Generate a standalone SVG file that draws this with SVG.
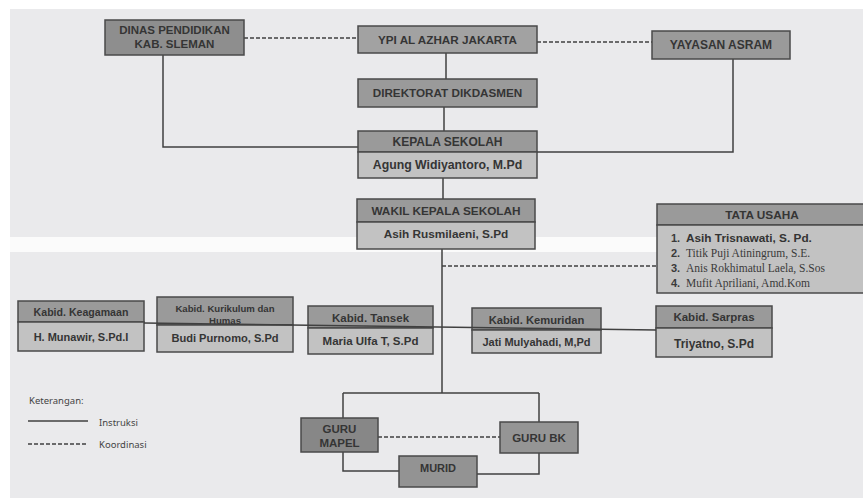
<svg xmlns="http://www.w3.org/2000/svg" width="863" height="498" viewBox="0 0 863 498">
<style>
.bg{fill:#eaeaec}
.box{stroke:#4a4a4a;stroke-width:1.5}
.h1{fill:#8e8e8e}.h2{fill:#a2a2a2}.h3{fill:#9a9a9a}.lo{fill:#c2c2c2}
.t{font-family:"Liberation Sans",Arial,sans-serif;font-weight:bold;fill:#353535;text-anchor:middle}
.s{font-family:"Liberation Serif","Times New Roman",serif;fill:#3a3a3a;font-size:11.5px}
.n{font-family:"Liberation Sans",Arial,sans-serif;font-weight:bold;fill:#3a3a3a;font-size:11px}
.ln{fill:none;stroke:#404040;stroke-width:1.5}
.dl{fill:none;stroke:#404040;stroke-width:1.5;stroke-dasharray:4 2}
.lg{font-family:"Noto Sans","Open Sans",sans-serif;font-size:9.5px;fill:#444}
</style>
<rect width="863" height="498" fill="#ffffff"/>
<rect class="bg" x="10" y="9" width="853" height="489"/>
<rect x="10" y="237" width="853" height="15" fill="#fbfbfb"/>

<g id="connectors">
<path class="dl" d="M244,38 H358"/>
<path class="dl" d="M537,42 H652"/>
<path class="ln" d="M446,53 V79"/>
<path class="ln" d="M444,107 V131"/>
<path class="ln" d="M163,55 V147 H358"/>
<path class="ln" d="M733,59 V152 H537"/>
<path class="ln" d="M443,178 V199"/>
<path class="ln" d="M442,249 V393"/>
<path class="dl" d="M442,266 H657"/>
<path class="ln" d="M343,393 H539"/>
<path class="ln" d="M343,393 V418"/>
<path class="ln" d="M539,393 V422"/>
<path class="dl" d="M378,437 H500"/>
<path class="ln" d="M343,452 V471 H399"/>
<path class="ln" d="M539,453 V474 H477"/>
</g>

<g id="dinas">
<rect class="box h1" x="105" y="20" width="139" height="35"/>
<text class="t" x="174.5" y="34" font-size="11.5">DINAS PENDIDIKAN</text>
<text class="t" x="174.5" y="48" font-size="11.5">KAB. SLEMAN</text>
</g>
<g id="ypi">
<rect class="box h2" x="358" y="26" width="179" height="27"/>
<text class="t" x="447.5" y="43.5" font-size="11.7">YPI AL AZHAR JAKARTA</text>
</g>
<g id="yayasan">
<rect class="box h3" x="652" y="31" width="138" height="28"/>
<text class="t" x="721" y="49" font-size="12">YAYASAN ASRAM</text>
</g>
<g id="direktorat">
<rect class="box h3" x="358" y="79" width="179" height="28"/>
<text class="t" x="447.5" y="97" font-size="11.7">DIREKTORAT DIKDASMEN</text>
</g>
<g id="kepala">
<rect class="box h3" x="358" y="131" width="179" height="21"/>
<rect class="box lo" x="358" y="152" width="179" height="26"/>
<text class="t" x="447.5" y="146" font-size="12">KEPALA SEKOLAH</text>
<text class="t" x="447.5" y="168.5" font-size="12.3">Agung Widiyantoro, M.Pd</text>
</g>
<g id="wakil">
<rect class="box h3" x="357" y="199" width="178" height="23"/>
<rect class="box lo" x="357" y="222" width="178" height="27"/>
<text class="t" x="446" y="215" font-size="11.8">WAKIL KEPALA SEKOLAH</text>
<text class="t" x="446" y="237.5" font-size="11.8">Asih Rusmilaeni, S.Pd</text>
</g>
<g id="tatausaha">
<rect class="box h3" x="657" y="204" width="210" height="21"/>
<rect class="box lo" x="657" y="225" width="210" height="68"/>
<text class="t" x="762" y="219" font-size="11.8">TATA USAHA</text>
<text class="n" x="671" y="242">1.</text>
<text x="686" y="242" font-family="Liberation Sans, Arial, sans-serif" font-weight="bold" font-size="11.8" fill="#333">Asih Trisnawati, S. Pd.</text>
<text class="n" x="671" y="257">2.</text>
<text class="s" x="686" y="257">Titik Puji Atiningrum, S.E.</text>
<text class="n" x="671" y="272">3.</text>
<text class="s" x="686" y="272">Anis Rokhimatul Laela, S.Sos</text>
<text class="n" x="671" y="287">4.</text>
<text class="s" x="686" y="287">Mufit Apriliani, Amd.Kom</text>
</g>
<g id="keagamaan">
<rect class="box h3" x="18" y="301" width="126" height="21"/>
<rect class="box lo" x="18" y="322" width="126" height="29"/>
<text class="t" x="81" y="315.5" font-size="10.6">Kabid. Keagamaan</text>
<text class="t" x="81" y="340.5" font-size="11">H. Munawir, S.Pd.I</text>
</g>
<g id="kurikulum">
<rect class="box h3" x="157" y="297" width="136" height="28"/>
<rect class="box lo" x="157" y="325" width="136" height="27"/>
<text class="t" x="225" y="312" font-size="9.6">Kabid. Kurikulum dan</text>
<text class="t" x="225" y="323.5" font-size="9.6">Humas</text>
<text class="t" x="225" y="342" font-size="11.1">Budi Purnomo, S.Pd</text>
</g>
<g id="tansek">
<rect class="box h3" x="308" y="306" width="125" height="22"/>
<rect class="box lo" x="308" y="328" width="125" height="26"/>
<text class="t" x="370.5" y="322" font-size="11.5">Kabid. Tansek</text>
<text class="t" x="370.5" y="344.5" font-size="11.5">Maria Ulfa T, S.Pd</text>
</g>
<g id="kemuridan">
<rect class="box h3" x="472" y="308" width="129" height="22"/>
<rect class="box lo" x="472" y="330" width="129" height="23"/>
<text class="t" x="536.5" y="324" font-size="11.2">Kabid. Kemuridan</text>
<text class="t" x="536.5" y="345.5" font-size="11">Jati Mulyahadi, M,Pd</text>
</g>
<g id="sarpras">
<rect class="box h3" x="656" y="306" width="116" height="22"/>
<rect class="box lo" x="656" y="328" width="116" height="29"/>
<text class="t" x="714" y="320.5" font-size="11.5">Kabid. Sarpras</text>
<text class="t" x="714" y="347.5" font-size="12">Triyatno, S.Pd</text>
</g>
<g id="kabid-line">
<path class="ln" d="M144,323 L656,330"/>
</g>
<g id="gurumapel">
<rect class="box" fill="#878787" x="301" y="418" width="77" height="34"/>
<text class="t" x="339.5" y="433" font-size="11.5">GURU</text>
<text class="t" x="339.5" y="446.5" font-size="11.5">MAPEL</text>
</g>
<g id="gurubk">
<rect class="box" fill="#959595" x="500" y="422" width="78" height="31"/>
<text class="t" x="539" y="441.5" font-size="11.5">GURU BK</text>
</g>
<g id="murid">
<rect class="box" fill="#939393" x="399" y="456" width="78" height="31"/>
<text class="t" x="438" y="472" font-size="11">MURID</text>
</g>
<g id="legend">
<text class="lg" x="29" y="404">Keterangan:</text>
<path class="ln" d="M28,421 H88" stroke-width="1.2"/>
<text class="lg" x="99" y="426">Instruksi</text>
<path class="dl" d="M28,444 H88" stroke-width="1.2" stroke-dasharray="3 1.5"/>
<text class="lg" x="99" y="448">Koordinasi</text>
</g>
</svg>
